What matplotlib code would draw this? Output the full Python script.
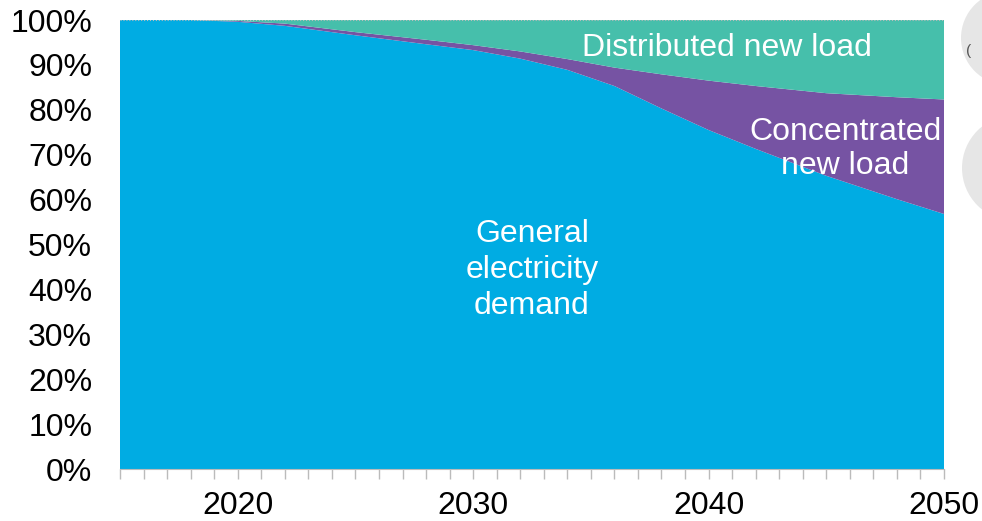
import matplotlib
matplotlib.use("Agg")
import matplotlib.pyplot as plt
from matplotlib.patches import Circle
from matplotlib.ticker import MultipleLocator, FuncFormatter

plt.rcParams['font.family'] = ['Liberation Sans', 'DejaVu Sans']

# share of total electricity demand, %
years = [2015, 2018, 2020, 2022, 2025, 2028, 2030, 2032, 2034, 2036, 2038, 2040, 2042, 2045, 2048, 2050]
general = [100, 100, 99.6, 98.7, 96.6, 94.6, 93.3, 91.4, 88.9, 85.3, 80.3, 75.5, 71.3, 65.3, 60.1, 56.8]
concentrated = [0, 0, 0.2, 0.5, 0.7, 1.0, 1.1, 1.6, 2.4, 4.1, 7.6, 11.0, 14.0, 18.4, 22.7, 25.5]
distributed = [0, 0, 0.2, 0.8, 2.7, 4.4, 5.6, 7.0, 8.7, 10.6, 12.1, 13.5, 14.7, 16.3, 17.2, 17.7]

colors = ['#00ACE3', '#7653A3', '#46BFAB']
xticks = [2020, 2030, 2040, 2050]
yticks = list(range(0, 101, 10))

fig = plt.figure(figsize=(9.82, 5.21), dpi=100)
ax = fig.add_axes([0.1222, 0.0998, 0.8391, 0.8618])

ax.stackplot(years, general, concentrated, distributed, colors=colors, linewidth=0)

ax.set_xlim(2015, 2050)
ax.set_ylim(0, 100)
ax.set_xticks(xticks)
ax.xaxis.set_minor_locator(MultipleLocator(1))
ax.set_yticks(yticks)
ax.yaxis.set_major_formatter(FuncFormatter(lambda v, p: f"{v:.0f}%"))

ax.tick_params(axis='y', length=0, pad=20, labelsize=23)
ax.tick_params(axis='x', which='both', direction='out', length=7, width=1,
               color='#BBBBBB', labelsize=23, pad=9)

for s in ['left', 'right', 'top']:
    ax.spines[s].set_visible(False)
ax.spines['bottom'].set_color('#BBBBBB')
ax.axhline(100, color='#BBBBBB', lw=0.8, ls=':')

ax.text(2032.5, 44.3, "General\nelectricity\ndemand", color='white', fontsize=23,
        ha='center', va='center', linespacing=1.27)
ax.text(2045.8, 71.3, "Concentrated\nnew load", color='white', fontsize=23,
        ha='center', va='center', linespacing=1.2)
ax.text(2040.8, 93.8, "Distributed new load", color='white', fontsize=23,
        ha='center', va='center')

# decorative grey circles cut off at the right edge
for cx, cy, r in [(10.08, 4.83, 0.47), (10.15, 3.53, 0.53)]:
    fig.patches.append(Circle((cx, cy), r, transform=fig.dpi_scale_trans,
                              facecolor='#E6E6E6', edgecolor='none'))
fig.text(9.66, 4.66, "(", transform=fig.dpi_scale_trans, fontsize=11, color='#555555')

fig.savefig("out.png", dpi=100)
